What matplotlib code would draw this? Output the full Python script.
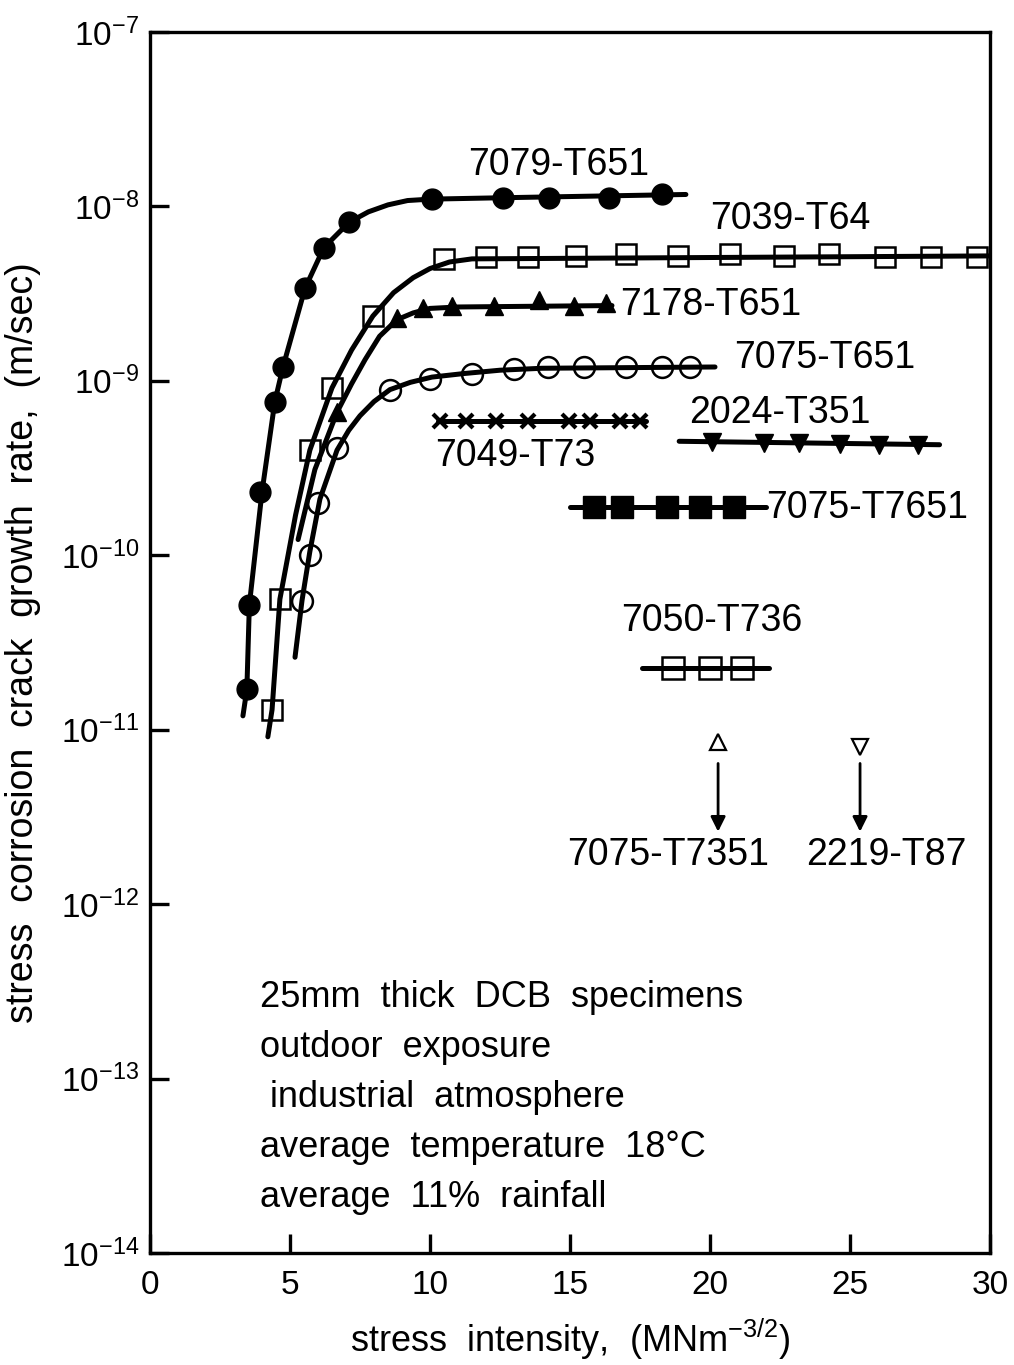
import math
import matplotlib
matplotlib.use("Agg")
import matplotlib.pyplot as plt
from matplotlib.ticker import FixedLocator, FuncFormatter, NullLocator

plt.rcParams['font.family'] = ['Liberation Sans', 'DejaVu Sans']
plt.rcParams['mathtext.default'] = 'regular'

# ========================
# Data (K in MN m^-3/2, velocity in m/s)
# ========================
# 7079-T651 (filled circles)
k_7079 = [3.46, 3.55, 3.93, 4.46, 4.75, 5.54, 6.21, 7.11, 10.07, 12.6, 14.25, 16.4, 18.3]
v_7079 = [1.7e-11, 5.2e-11, 2.3e-10, 7.6e-10, 1.2e-9, 3.4e-9, 5.8e-9, 8.1e-9,
          1.1e-8, 1.12e-8, 1.12e-8, 1.12e-8, 1.17e-8]
fit_k_7079 = [3.32, 3.46, 3.55, 4.0, 4.46, 4.75, 5.54, 6.21, 7.11, 7.8, 8.5, 9.2, 10.0, 12.5, 19.14]
fit_v_7079 = [1.2e-11, 1.7e-11, 5.2e-11, 2.3e-10, 7.6e-10, 1.2e-9, 3.4e-9, 5.8e-9,
              8.1e-9, 9.3e-9, 1.02e-8, 1.08e-8, 1.1e-8, 1.12e-8, 1.17e-8]

# 7039-T64 (open squares)
k_7039 = [4.36, 4.64, 5.71, 6.5, 7.96, 10.5, 12.0, 13.5, 15.2, 17.0, 18.85, 20.7,
          22.65, 24.25, 26.25, 27.9, 29.55]
v_7039 = [1.3e-11, 5.6e-11, 4.0e-10, 9.1e-10, 2.35e-9, 5.0e-9, 5.1e-9, 5.1e-9, 5.2e-9,
          5.3e-9, 5.2e-9, 5.3e-9, 5.2e-9, 5.3e-9, 5.1e-9, 5.1e-9, 5.1e-9]
fit_k_7039 = [4.21, 4.36, 4.64, 5.2, 5.71, 6.5, 7.2, 7.96, 8.7, 9.4, 10.0, 10.7, 11.5, 30.0]
fit_v_7039 = [9.1e-12, 1.3e-11, 5.6e-11, 1.7e-10, 4.0e-10, 9.1e-10, 1.5e-9, 2.35e-9,
              3.2e-9, 3.9e-9, 4.4e-9, 4.8e-9, 5.0e-9, 5.2e-9]

# 7178-T651 (filled triangles)
k_7178 = [6.68, 8.82, 9.75, 10.8, 12.3, 13.9, 15.14, 16.3]
v_7178 = [6.6e-10, 2.3e-9, 2.6e-9, 2.7e-9, 2.7e-9, 2.9e-9, 2.7e-9, 2.8e-9]
fit_k_7178 = [5.29, 5.89, 6.68, 7.2, 7.68, 8.2, 8.82, 9.4, 10.0, 11.0, 16.5]
fit_v_7178 = [1.23e-10, 3.1e-10, 6.6e-10, 9.6e-10, 1.32e-9, 1.8e-9, 2.24e-9, 2.45e-9,
              2.6e-9, 2.65e-9, 2.7e-9]

# 7075-T651 (open circles)
k_7075 = [5.43, 5.71, 6.0, 6.68, 8.57, 10.0, 11.5, 13.0, 14.2, 15.5, 17.0, 18.3, 19.3]
v_7075 = [5.5e-11, 1.0e-10, 2.0e-10, 4.1e-10, 8.9e-10, 1.02e-9, 1.1e-9, 1.17e-9,
          1.2e-9, 1.2e-9, 1.2e-9, 1.2e-9, 1.2e-9]
fit_k_7075 = [5.18, 5.43, 5.71, 6.07, 6.68, 7.1, 7.5, 8.0, 8.57, 9.3, 10.07, 11.2, 12.5, 14.0, 20.18]
fit_v_7075 = [2.6e-11, 5.5e-11, 1.05e-10, 2.1e-10, 4.0e-10, 5.2e-10, 6.3e-10, 7.6e-10,
              8.9e-10, 9.8e-10, 1.05e-9, 1.1e-9, 1.15e-9, 1.18e-9, 1.2e-9]

# 7049-T73 (crosses)
k_7049 = [10.36, 11.29, 12.36, 13.5, 14.96, 15.7, 16.8, 17.5]
v_7049 = [5.9e-10] * 8
fit_k_7049 = [10.3, 17.7]
fit_v_7049 = [5.9e-10, 5.9e-10]

# 2024-T351 (filled inverted triangles)
k_2024 = [20.07, 21.93, 23.18, 24.64, 26.04, 27.43]
v_2024 = [4.45e-10, 4.4e-10, 4.4e-10, 4.35e-10, 4.3e-10, 4.3e-10]
fit_k_2024 = [18.9, 28.2]
fit_v_2024 = [4.5e-10, 4.3e-10]

# 7075-T7651 (filled squares)
k_7651 = [15.85, 16.86, 18.46, 19.64, 20.86]
v_7651 = [1.9e-10] * 5
fit_k_7651 = [15.0, 22.0]
fit_v_7651 = [1.9e-10, 1.9e-10]

# 7050-T736 (open squares)
k_7050 = [18.68, 20.0, 21.14]
v_7050 = [2.25e-11] * 3
fit_k_7050 = [17.57, 22.1]
fit_v_7050 = [2.25e-11, 2.25e-11]

# single points with "below" arrows
k_7351, v_7351 = 20.29, 8.5e-12
k_2219, v_2219 = 25.36, 8.0e-12

notes = ["25mm  thick  DCB  specimens",
         "outdoor  exposure",
         " industrial  atmosphere",
         "average  temperature  18°C",
         "average  11%  rainfall"]

# ========================
# Plot
# ========================
fig = plt.figure(figsize=(10.14, 13.65), dpi=100)
ax = fig.add_axes([0.1479, 0.0821, 0.8284, 0.8945])
ax.set_yscale('log')
ax.set_xlim(0, 30)
ax.set_ylim(1e-14, 1e-7)

LW = 3.6
line_kw = dict(color='black', lw=LW, solid_capstyle='round', solid_joinstyle='round', zorder=2)

for fk, fv in [(fit_k_7079, fit_v_7079), (fit_k_7039, fit_v_7039), (fit_k_7178, fit_v_7178),
               (fit_k_7075, fit_v_7075), (fit_k_7049, fit_v_7049), (fit_k_2024, fit_v_2024),
               (fit_k_7651, fit_v_7651), (fit_k_7050, fit_v_7050)]:
    ax.plot(fk, fv, **line_kw)

mk = dict(linestyle='none', color='black', zorder=3, clip_on=False)
ax.plot(k_7079, v_7079, marker='o', ms=15, **mk)
ax.plot(k_7039, v_7039, marker='s', ms=15, mfc='none', mew=1.8, **mk)
ax.plot(k_7178, v_7178, marker='^', ms=13, **mk)
ax.plot(k_7075, v_7075, marker='o', ms=15, mfc='none', mew=1.8, **mk)
ax.plot(k_7049, v_7049, marker='x', ms=10, mew=3, **mk)
ax.plot(k_2024, v_2024, marker='v', ms=13, **mk)
ax.plot(k_7651, v_7651, marker='s', ms=16, **mk)
ax.plot(k_7050, v_7050, marker='s', ms=16, mfc='none', mew=1.8, **mk)
ax.plot([k_7351], [v_7351], marker='^', ms=11, mfc='none', mew=1.6, **mk)
ax.plot([k_2219], [v_2219], marker='v', ms=11, mfc='none', mew=1.6, **mk)

arrow = dict(arrowstyle='-|>', lw=2, color='black', mutation_scale=22, shrinkA=0, shrinkB=0)
ax.annotate('', xy=(k_7351, 2.6e-12), xytext=(k_7351, 6.4e-12), arrowprops=arrow)
ax.annotate('', xy=(k_2219, 2.6e-12), xytext=(k_2219, 6.4e-12), arrowprops=arrow)

# series labels
FS = 27
ax.text(11.35, 1.73e-8, "7079-T651", fontsize=FS, va='center')
ax.text(20.0, 8.5e-9, "7039-T64", fontsize=FS, va='center')
ax.text(16.8, 2.72e-9, "7178-T651", fontsize=FS, va='center')
ax.text(20.85, 1.35e-9, "7075-T651", fontsize=FS, va='center')
ax.text(10.2, 3.7e-10, "7049-T73", fontsize=FS, va='center')
ax.text(19.25, 6.5e-10, "2024-T351", fontsize=FS, va='center')
ax.text(22.0, 1.86e-10, "7075-T7651", fontsize=FS, va='center')
ax.text(20.07, 4.2e-11, "7050-T736", fontsize=FS, va='center', ha='center')
ax.text(18.5, 1.9e-12, "7075-T7351", fontsize=FS, va='center', ha='center')
ax.text(26.3, 1.9e-12, "2219-T87", fontsize=FS, va='center', ha='center')

for i, line in enumerate(notes):
    ax.text(0.131, 0.209 - i * 0.041, line, transform=ax.transAxes,
            fontsize=26, va='center', ha='left')

# axes styling
for sp in ax.spines.values():
    sp.set_linewidth(2.4)
ax.yaxis.set_major_locator(FixedLocator([10.0 ** e for e in range(-14, -6)]))
ax.yaxis.set_minor_locator(NullLocator())
ax.yaxis.set_major_formatter(FuncFormatter(lambda v, p: r"$10^{%d}$" % round(math.log10(v))))
ax.xaxis.set_major_locator(FixedLocator([0, 5, 10, 15, 20, 25, 30]))
ax.tick_params(axis='both', direction='in', length=14, width=2.4, labelsize=24)
ax.tick_params(axis='y', pad=8)
ax.tick_params(axis='x', pad=12)

ax.set_xlabel(r"stress  intensity,  (MNm$^{-3/2}$)", fontsize=26, labelpad=12)
ax.set_ylabel("stress  corrosion  crack  growth  rate,  (m/sec)", fontsize=27, labelpad=14)

fig.savefig("out.png", dpi=100)
